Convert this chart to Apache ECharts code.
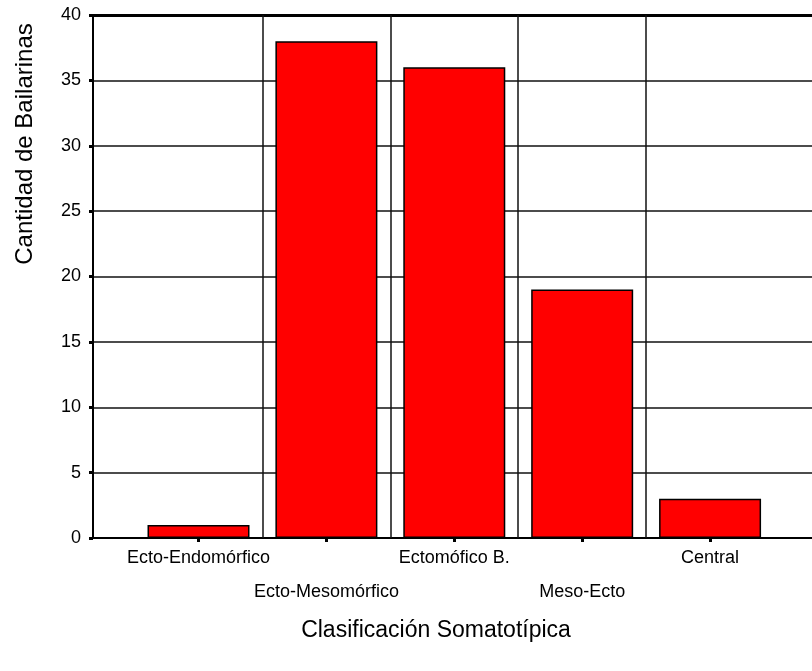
<!DOCTYPE html>
<html>
<head>
<meta charset="utf-8">
<style>
  html, body { margin: 0; padding: 0; background: #fff; }
  #chart { width: 812px; height: 671px; }
</style>
<script src="https://cdn.jsdelivr.net/npm/echarts@6/dist/echarts.min.js"></script>
</head>
<body>
<div id="chart"></div>
<script>
// Somatotype classes and dancer counts
const categories = ['Ecto-Endomórfico', 'Ecto-Mesomórfico', 'Ectomófico B.', 'Meso-Ecto', 'Central'];
const counts = [1, 38, 36, 19, 3];
const yTicks = [0, 5, 10, 15, 20, 25, 30, 35, 40];

const FONT = '"Liberation Sans", Arial, sans-serif';

// categories sit at positions 1..n on a numeric x axis
const positions = categories.map((_, i) => i + 1);
const barData = counts.map((v, i) => [positions[i], v]);
// separators between neighbouring categories
const separators = positions.slice(0, -1).map(p => ({ xAxis: p + 0.5 }));
// category names are staggered over two rows
const rowOne = positions.filter((_, i) => i % 2 === 0);
const rowTwo = positions.filter((_, i) => i % 2 === 1);

const X_MIN = 0.175;
const X_MAX = 5.797;

function categoryName(v) {
  return categories[Math.round(v) - 1] || '';
}

function labelAxis(values, margin) {
  return {
    type: 'value',
    position: 'bottom',
    min: X_MIN,
    max: X_MAX,
    axisLine: { show: false },
    axisTick: { show: false },
    splitLine: { show: false },
    axisLabel: {
      show: true,
      customValues: values,
      hideOverlap: false,
      showMinLabel: true,
      showMaxLabel: true,
      color: '#000',
      fontFamily: FONT,
      fontSize: 18,
      margin: margin,
      formatter: categoryName
    }
  };
}

const chart = echarts.init(document.getElementById('chart'), null, { renderer: 'canvas' });

chart.setOption({
  backgroundColor: '#ffffff',
  animation: false,
  grid: { left: 93, right: 0, top: 15, bottom: 133, containLabel: false },
  xAxis: [
    {
      type: 'value',
      min: X_MIN,
      max: X_MAX,
      axisLine: { show: true, onZero: false, lineStyle: { color: '#000', width: 2 } },
      axisTick: {
        show: true, inside: false, length: 4,
        customValues: positions,
        lineStyle: { color: '#000', width: 3 }
      },
      axisLabel: { show: false },
      splitLine: { show: false }
    },
    {
      type: 'value',
      position: 'top',
      min: X_MIN,
      max: X_MAX,
      axisLine: { show: true, onZero: false, lineStyle: { color: '#000', width: 3 } },
      axisTick: { show: false },
      axisLabel: { show: false },
      splitLine: { show: false }
    },
    labelAxis(rowOne, 11),
    labelAxis(rowTwo, 45)
  ],
  yAxis: {
    type: 'value',
    min: yTicks[0],
    max: yTicks[yTicks.length - 1],
    interval: 5,
    axisLine: { show: true, lineStyle: { color: '#000', width: 2 } },
    axisTick: { show: true, length: 4, lineStyle: { color: '#000', width: 3 } },
    axisLabel: {
      color: '#000',
      fontFamily: FONT,
      fontSize: 18,
      margin: 12
    },
    splitLine: { show: true, lineStyle: { color: '#111', width: 1.5 } }
  },
  title: {
    text: 'Clasificación Somatotípica',
    left: 431,
    top: 614,
    textAlign: 'center',
    textStyle: { color: '#000', fontFamily: FONT, fontSize: 23, fontWeight: 'normal' }
  },
  graphic: [
    {
      type: 'text',
      x: 25,
      y: 144,
      rotation: Math.PI / 2,
      style: {
        text: 'Cantidad de Bailarinas',
        font: '24px ' + FONT,
        fill: '#000',
        textAlign: 'center',
        textVerticalAlign: 'middle',
        verticalAlign: 'middle'
      }
    }
  ],
  series: [
    {
      type: 'bar',
      xAxisIndex: 0,
      data: barData,
      barWidth: 102,
      itemStyle: { color: '#ff0000', borderColor: '#000', borderWidth: 1.5 },
      markLine: {
        silent: true,
        symbol: 'none',
        label: { show: false },
        lineStyle: { color: '#111', width: 1.5, type: 'solid' },
        data: separators
      }
    }
  ]
});
</script>
</body>
</html>
